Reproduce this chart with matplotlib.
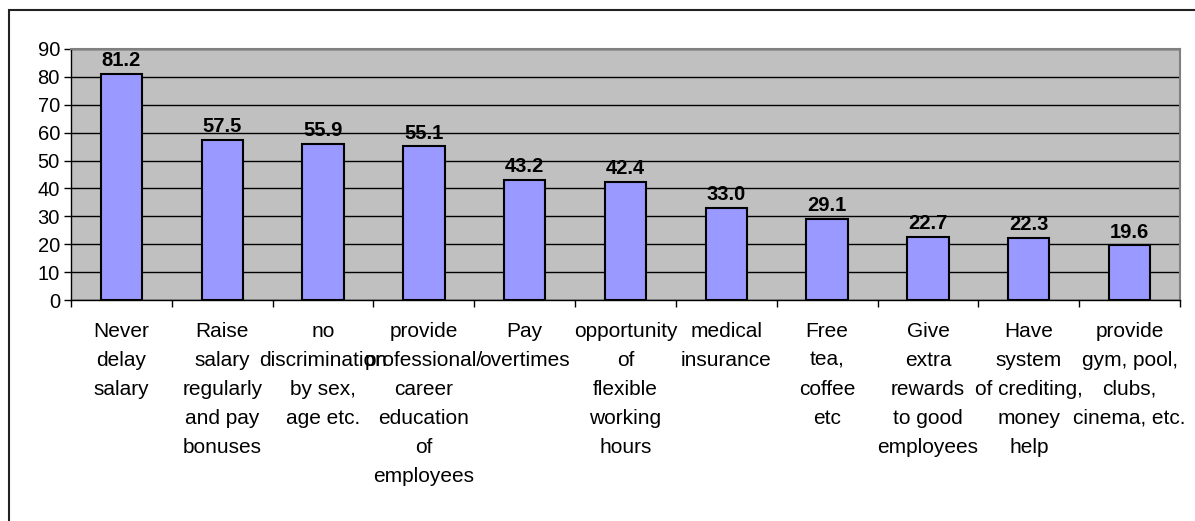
import matplotlib
matplotlib.use('Agg')
import matplotlib.pyplot as plt
from matplotlib.patches import Rectangle
import numpy as np

plt.rcParams['font.family'] = ['Liberation Sans', 'DejaVu Sans']

# survey answers and share of respondents (%)
categories = [
    'Never\ndelay\nsalary',
    'Raise\nsalary\nregularly\nand pay\nbonuses',
    'no\ndiscrimination\nby sex,\nage etc.',
    'provide\nprofessional/\ncareer\neducation\nof\nemployees',
    'Pay\novertimes',
    'opportunity\nof\nflexible\nworking\nhours',
    'medical\ninsurance',
    'Free\ntea,\ncoffee\netc',
    'Give\nextra\nrewards\nto good\nemployees',
    'Have\nsystem\nof crediting,\nmoney\nhelp',
    'provide\ngym, pool,\nclubs,\ncinema, etc.',
]
values = [81.2, 57.5, 55.9, 55.1, 43.2, 42.4, 33.0, 29.1, 22.7, 22.3, 19.6]
yticks = list(range(0, 100, 10))

fs = 14.5
fig = plt.figure(figsize=(11.95, 5.21), dpi=100)
ax = fig.add_axes([71/1195, 1 - 300/521, (1180 - 71)/1195, (300 - 49)/521])

# outer chart frame
fig.patches.append(Rectangle((9/1195, -0.1), 1.2, 1 - 10/521 + 0.1,
                             transform=fig.transFigure, fill=False,
                             edgecolor='#222222', linewidth=1.5))

x = np.arange(len(values))
ax.set_facecolor('#C0C0C0')
ax.set_axisbelow(True)
ax.grid(axis='y', color='black', linewidth=1.0)
bars = ax.bar(x, values, width=0.41, color='#9999FF', edgecolor='black', linewidth=1.5)

for b, v in zip(bars, values):
    ax.text(b.get_x() + b.get_width()/2, v + 1.3, '%.1f' % v,
            ha='center', va='bottom', fontsize=fs, fontweight='bold')

ax.set_xlim(-0.5, len(values) - 0.5)
ax.set_ylim(0, 90)
ax.set_yticks(yticks)
ax.tick_params(axis='y', labelsize=fs, length=5, width=1, pad=3)

# ticks sit between categories, labels in the middle
ax.set_xticks(np.arange(len(values) + 1) - 0.5)
ax.set_xticklabels([])
ax.tick_params(axis='x', length=5, width=1)
for i, lab in enumerate(categories):
    ax.annotate(lab, xy=(i, 0), xycoords=('data', 'axes fraction'),
                xytext=(0, -15.5), textcoords='offset points', ha='center', va='top',
                fontsize=15, linespacing=1.67)

for s in ['top', 'right']:
    ax.spines[s].set_color('#808080')
    ax.spines[s].set_linewidth(1.5)
for s in ['left', 'bottom']:
    ax.spines[s].set_color('black')
    ax.spines[s].set_linewidth(1.0)

fig.savefig('out.png', dpi=100)
